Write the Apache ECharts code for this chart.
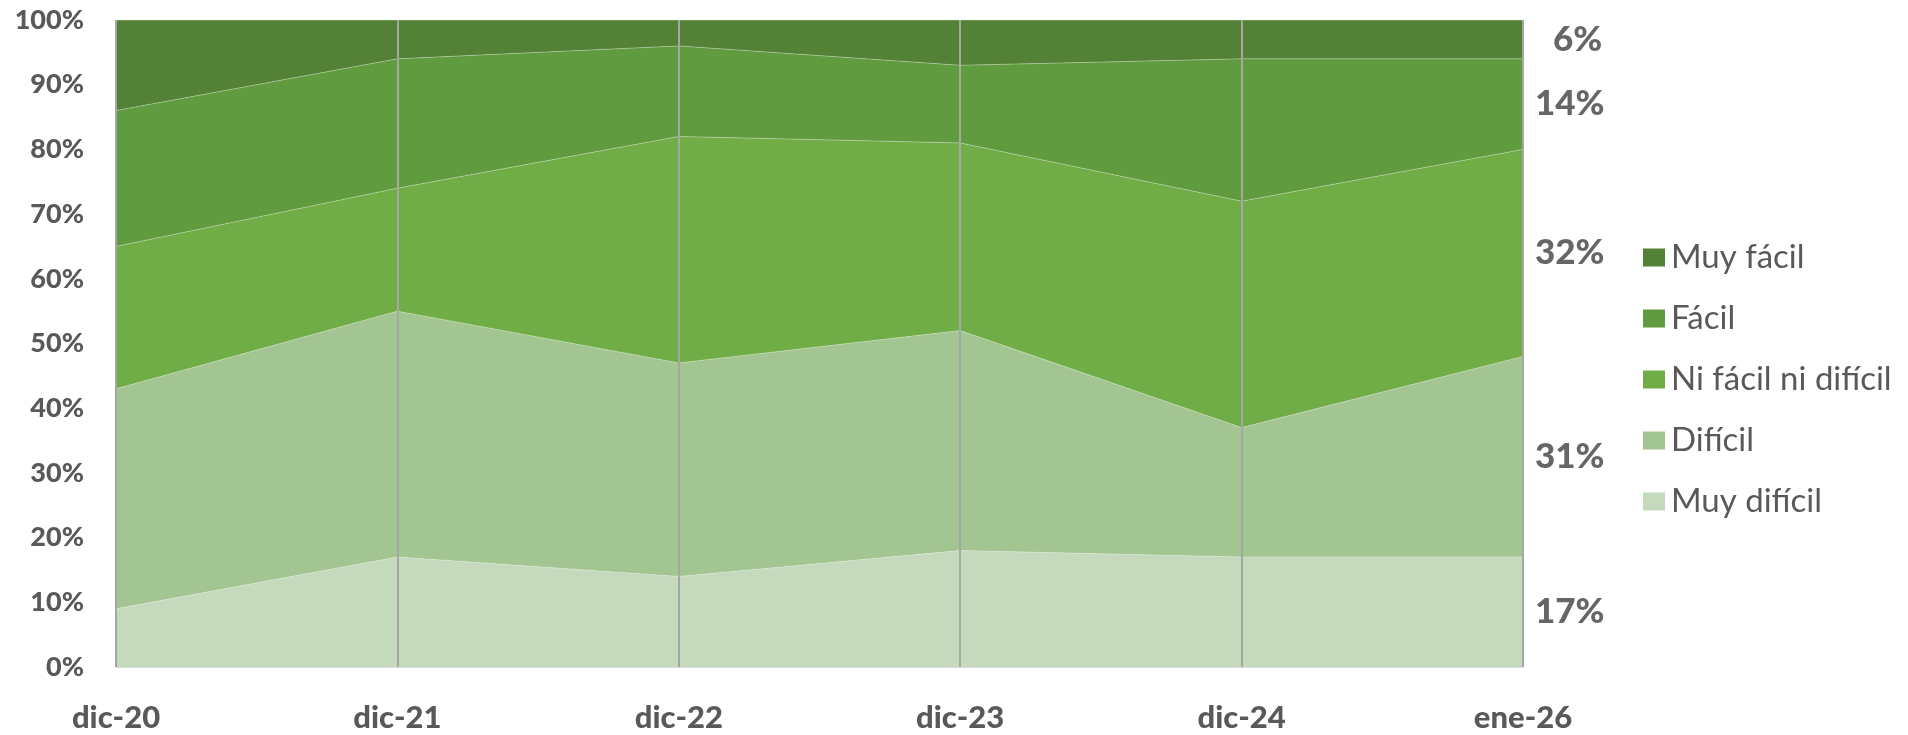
<!DOCTYPE html>
<html>
<head>
<meta charset="utf-8">
<script src="https://cdn.jsdelivr.net/npm/echarts@6/dist/echarts.min.js"></script>
<style>
  html, body { margin: 0; padding: 0; background: #fff; }
  #chart { width: 1908px; height: 735px; }
</style>
</head>
<body>
<div id="chart"></div>
<script>
// categorias y porcentajes
const categories = ["dic-20", "dic-21", "dic-22", "dic-23", "dic-24", "ene-26"];
const muyDificil = [9, 17, 14, 18, 17, 17];
const dificil = [34, 38, 33, 34, 20, 31];
const niNi = [22, 19, 35, 29, 35, 32];
const facil = [21, 20, 14, 12, 22, 14];
const muyFacil = [14, 6, 4, 7, 6, 6];
const yTicks = [0, 10, 20, 30, 40, 50, 60, 70, 80, 90, 100];

const seriesDefs = [
  { name: "Muy difícil", data: muyDificil, color: "#c5d9bc" },
  { name: "Difícil", data: dificil, color: "#a3c592" },
  { name: "Ni fácil ni difícil", data: niNi, color: "#70ad47" },
  { name: "Fácil", data: facil, color: "#619b3f" },
  { name: "Muy fácil", data: muyFacil, color: "#538135" },
];

const chart = echarts.init(document.getElementById("chart"));

// etiquetas del ultimo punto, en el centro de cada franja
const last = categories.length - 1;
let cum = 0;
const endLabels = seriesDefs.map((s, i) => {
  const v = s.data[last];
  const mid = cum + v / 2;
  cum += v;
  const item = { value: [last, mid, v] };
  // la de arriba va un poco mas separada (en excel lleva linea guia)
  if (i === seriesDefs.length - 1) item.label = { distance: 30 };
  return item;
});

const series = seriesDefs.map((s) => ({
  name: s.name,
  type: "line",
  stack: "total",
  data: s.data,
  symbol: "none",
  itemStyle: { color: s.color },
  lineStyle: { width: 1, color: "rgba(255,255,255,0.3)" },
  areaStyle: { color: s.color, opacity: 1 },
  emphasis: { disabled: true },
}));

series.push({
  name: "etiquetas",
  type: "scatter",
  data: endLabels,
  symbolSize: 0,
  silent: true,
  z: 6,
  label: {
    show: true,
    position: "right",
    distance: 12,
    formatter: (p) => p.value[2] + "%",
    color: "#404040",
    fontFamily: "Lato",
    fontWeight: 900,
    fontSize: 35,
  },
});

const option = {
  animation: false,
  grid: {
    left: 116,
    right: 385,
    top: 20,
    bottom: 68,
    containLabel: false,
  },
  legend: {
    orient: "vertical",
    left: 1638,
    top: 236,
    data: ["Muy fácil", "Fácil", "Ni fácil ni difícil", "Difícil", "Muy difícil"],
    icon: "rect",
    itemWidth: 22,
    itemHeight: 18,
    itemGap: 28,
    textStyle: {
      color: "#595959",
      fontFamily: "Lato",
      fontSize: 33,
      padding: [0, 0, 0, 1],
    },
  },
  xAxis: {
    type: "category",
    data: categories,
    boundaryGap: false,
    z: 5,
    axisLine: { show: true, lineStyle: { color: "#d9d9d9", width: 1 } },
    axisTick: { show: false },
    axisLabel: {
      interval: 0,
      margin: 35,
      color: "#595959",
      fontFamily: "Lato",
      fontWeight: 900,
      fontSize: 31,
    },
    splitLine: {
      show: true,
      interval: 0,
      lineStyle: { color: "#a6a6a6", width: 2 },
    },
  },
  yAxis: {
    type: "value",
    min: yTicks[0],
    max: yTicks[yTicks.length - 1],
    interval: 10,
    axisLine: { show: false },
    axisTick: { show: false },
    splitLine: { show: false },
    axisLabel: {
      margin: 32,
      formatter: "{value}%",
      color: "#595959",
      fontFamily: "Lato",
      fontWeight: 900,
      fontSize: 27,
    },
  },
  series: series,
};

chart.setOption(option);
</script>
</body>
</html>
